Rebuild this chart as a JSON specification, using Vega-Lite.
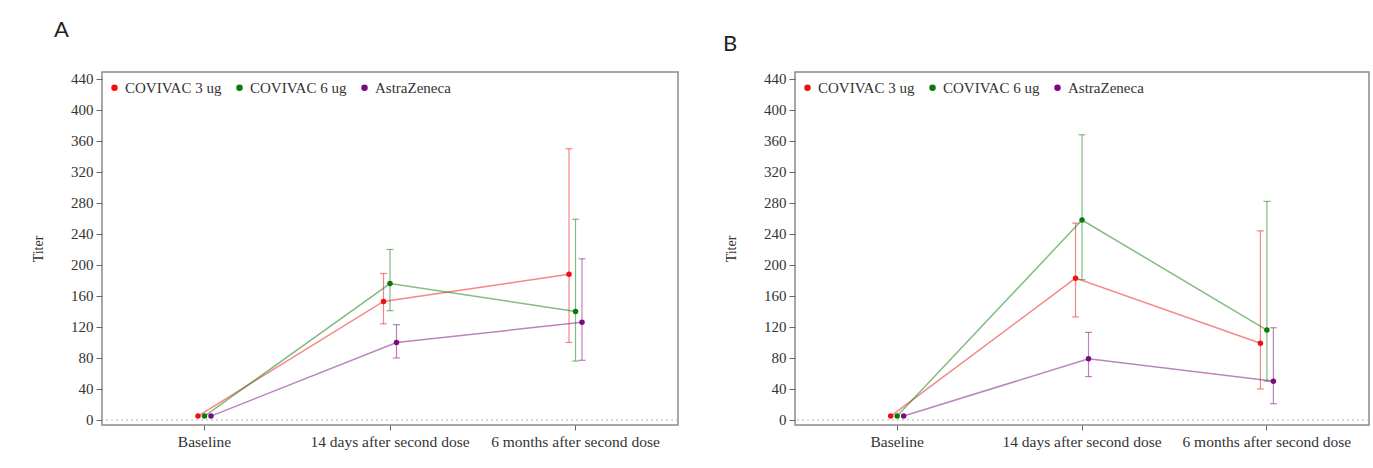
{
  "$schema": "https://vega.github.io/schema/vega-lite/v6.json",
  "background": "white",
  "padding": {"left": 30, "top": 18, "right": 5, "bottom": 5},
  "bounds": "flush",
  "spacing": 117,
  "datasets": {
    "d": [
      {"panel": "A", "time": "Baseline", "group": "COVIVAC 3 ug", "titer": 5, "lo": null, "hi": null},
      {"panel": "A", "time": "Baseline", "group": "COVIVAC 6 ug", "titer": 5, "lo": null, "hi": null},
      {"panel": "A", "time": "Baseline", "group": "AstraZeneca", "titer": 5, "lo": null, "hi": null},
      {"panel": "A", "time": "14 days after second dose", "group": "COVIVAC 3 ug", "titer": 153, "lo": 124, "hi": 189},
      {"panel": "A", "time": "14 days after second dose", "group": "COVIVAC 6 ug", "titer": 176, "lo": 141, "hi": 220},
      {"panel": "A", "time": "14 days after second dose", "group": "AstraZeneca", "titer": 100, "lo": 80, "hi": 123},
      {"panel": "A", "time": "6 months after second dose", "group": "COVIVAC 3 ug", "titer": 188, "lo": 100, "hi": 350},
      {"panel": "A", "time": "6 months after second dose", "group": "COVIVAC 6 ug", "titer": 140, "lo": 76, "hi": 259},
      {"panel": "A", "time": "6 months after second dose", "group": "AstraZeneca", "titer": 126, "lo": 77, "hi": 208},
      {"panel": "B", "time": "Baseline", "group": "COVIVAC 3 ug", "titer": 5, "lo": null, "hi": null},
      {"panel": "B", "time": "Baseline", "group": "COVIVAC 6 ug", "titer": 5, "lo": null, "hi": null},
      {"panel": "B", "time": "Baseline", "group": "AstraZeneca", "titer": 5, "lo": null, "hi": null},
      {"panel": "B", "time": "14 days after second dose", "group": "COVIVAC 3 ug", "titer": 183, "lo": 133, "hi": 254},
      {"panel": "B", "time": "14 days after second dose", "group": "COVIVAC 6 ug", "titer": 258, "lo": 181, "hi": 368},
      {"panel": "B", "time": "14 days after second dose", "group": "AstraZeneca", "titer": 79, "lo": 56, "hi": 113},
      {"panel": "B", "time": "6 months after second dose", "group": "COVIVAC 3 ug", "titer": 99, "lo": 40, "hi": 244},
      {"panel": "B", "time": "6 months after second dose", "group": "COVIVAC 6 ug", "titer": 116, "lo": 50, "hi": 282},
      {"panel": "B", "time": "6 months after second dose", "group": "AstraZeneca", "titer": 50, "lo": 21, "hi": 119}
    ]
  },
  "resolve": {"legend": {"color": "independent"}},
  "hconcat": [
    {
      "width": 576,
      "height": 353,
      "title": {"text": "A", "dx": -48, "offset": 30},
      "data": {"name": "d"},
      "transform": [{"filter": "datum.panel === 'A'"}],
      "layer": [
        {
          "data": {"values": [{"z": 0}]},
          "mark": {"type": "rule", "strokeDash": [2, 3], "color": "#b0b0b0", "strokeWidth": 1},
          "encoding": {"y": {"field": "z", "type": "quantitative", "title": "Titer", "scale": {"domain": [-6.5, 449], "nice": false, "zero": false}, "axis": {"values": [0, 40, 80, 120, 160, 200, 240, 280, 320, 360, 400, 440], "labelOverlap": false}}}
        },
        {
          "mark": {"type": "rule", "strokeWidth": 1.2, "opacity": 0.5},
          "encoding": {
            "x": {"field": "time", "type": "nominal", "sort": ["Baseline", "14 days after second dose", "6 months after second dose"], "title": null, "scale": {"type": "band", "paddingInner": 0.895, "paddingOuter": 0.5}},
            "xOffset": {"field": "group", "type": "nominal", "sort": ["COVIVAC 3 ug", "COVIVAC 6 ug", "AstraZeneca"], "scale": {"paddingInner": 0, "paddingOuter": 0}},
            "y": {"field": "lo", "type": "quantitative", "title": "Titer", "axis": {"values": [0, 40, 80, 120, 160, 200, 240, 280, 320, 360, 400, 440], "labelOverlap": false}},
            "y2": {"field": "hi"},
            "color": {"field": "group", "type": "nominal"}
          }
        },
        {
          "mark": {"type": "tick", "size": 7, "thickness": 1.2, "opacity": 0.5, "orient": "horizontal"},
          "encoding": {
            "x": {"field": "time", "type": "nominal", "sort": ["Baseline", "14 days after second dose", "6 months after second dose"], "title": null},
            "xOffset": {"field": "group", "type": "nominal", "sort": ["COVIVAC 3 ug", "COVIVAC 6 ug", "AstraZeneca"]},
            "y": {"field": "hi", "type": "quantitative", "title": "Titer", "axis": {"values": [0, 40, 80, 120, 160, 200, 240, 280, 320, 360, 400, 440], "labelOverlap": false}},
            "color": {"field": "group", "type": "nominal"}
          }
        },
        {
          "mark": {"type": "tick", "size": 7, "thickness": 1.2, "opacity": 0.5, "orient": "horizontal"},
          "encoding": {
            "x": {"field": "time", "type": "nominal", "sort": ["Baseline", "14 days after second dose", "6 months after second dose"], "title": null},
            "xOffset": {"field": "group", "type": "nominal", "sort": ["COVIVAC 3 ug", "COVIVAC 6 ug", "AstraZeneca"]},
            "y": {"field": "lo", "type": "quantitative", "title": "Titer", "axis": {"values": [0, 40, 80, 120, 160, 200, 240, 280, 320, 360, 400, 440], "labelOverlap": false}},
            "color": {"field": "group", "type": "nominal"}
          }
        },
        {
          "mark": {"type": "line", "strokeWidth": 1.5, "opacity": 0.5},
          "encoding": {
            "x": {"field": "time", "type": "nominal", "sort": ["Baseline", "14 days after second dose", "6 months after second dose"], "title": null},
            "xOffset": {"field": "group", "type": "nominal", "sort": ["COVIVAC 3 ug", "COVIVAC 6 ug", "AstraZeneca"]},
            "y": {"field": "titer", "type": "quantitative", "title": "Titer", "axis": {"values": [0, 40, 80, 120, 160, 200, 240, 280, 320, 360, 400, 440], "labelOverlap": false}},
            "color": {"field": "group", "type": "nominal"}
          }
        },
        {
          "mark": {"type": "point", "filled": true, "size": 30, "opacity": 1},
          "encoding": {
            "x": {"field": "time", "type": "nominal", "sort": ["Baseline", "14 days after second dose", "6 months after second dose"], "title": null},
            "xOffset": {"field": "group", "type": "nominal", "sort": ["COVIVAC 3 ug", "COVIVAC 6 ug", "AstraZeneca"]},
            "y": {"field": "titer", "type": "quantitative", "title": "Titer", "axis": {"values": [0, 40, 80, 120, 160, 200, 240, 280, 320, 360, 400, 440], "labelOverlap": false}},
            "color": {"field": "group", "type": "nominal", "scale": {"domain": ["COVIVAC 3 ug", "COVIVAC 6 ug", "AstraZeneca"], "range": ["#f01010", "#0a7a0a", "#7a0a80"]}, "legend": {"orient": "none", "legendX": 5, "legendY": 8, "direction": "horizontal", "title": null, "symbolType": "circle", "symbolOpacity": 1}}
          }
        }
      ]
    },
    {
      "width": 574,
      "height": 353,
      "title": {"text": "B", "dx": -72, "offset": 16},
      "data": {"name": "d"},
      "transform": [{"filter": "datum.panel === 'B'"}],
      "layer": [
        {
          "data": {"values": [{"z": 0}]},
          "mark": {"type": "rule", "strokeDash": [2, 3], "color": "#b0b0b0", "strokeWidth": 1},
          "encoding": {"y": {"field": "z", "type": "quantitative", "title": "Titer", "scale": {"domain": [-6.5, 449], "nice": false, "zero": false}, "axis": {"values": [0, 40, 80, 120, 160, 200, 240, 280, 320, 360, 400, 440], "labelOverlap": false}}}
        },
        {
          "mark": {"type": "rule", "strokeWidth": 1.2, "opacity": 0.5},
          "encoding": {
            "x": {"field": "time", "type": "nominal", "sort": ["Baseline", "14 days after second dose", "6 months after second dose"], "title": null, "scale": {"type": "band", "paddingInner": 0.895, "paddingOuter": 0.5}},
            "xOffset": {"field": "group", "type": "nominal", "sort": ["COVIVAC 3 ug", "COVIVAC 6 ug", "AstraZeneca"], "scale": {"paddingInner": 0, "paddingOuter": 0}},
            "y": {"field": "lo", "type": "quantitative", "title": "Titer", "axis": {"values": [0, 40, 80, 120, 160, 200, 240, 280, 320, 360, 400, 440], "labelOverlap": false}},
            "y2": {"field": "hi"},
            "color": {"field": "group", "type": "nominal"}
          }
        },
        {
          "mark": {"type": "tick", "size": 7, "thickness": 1.2, "opacity": 0.5, "orient": "horizontal"},
          "encoding": {
            "x": {"field": "time", "type": "nominal", "sort": ["Baseline", "14 days after second dose", "6 months after second dose"], "title": null},
            "xOffset": {"field": "group", "type": "nominal", "sort": ["COVIVAC 3 ug", "COVIVAC 6 ug", "AstraZeneca"]},
            "y": {"field": "hi", "type": "quantitative", "title": "Titer", "axis": {"values": [0, 40, 80, 120, 160, 200, 240, 280, 320, 360, 400, 440], "labelOverlap": false}},
            "color": {"field": "group", "type": "nominal"}
          }
        },
        {
          "mark": {"type": "tick", "size": 7, "thickness": 1.2, "opacity": 0.5, "orient": "horizontal"},
          "encoding": {
            "x": {"field": "time", "type": "nominal", "sort": ["Baseline", "14 days after second dose", "6 months after second dose"], "title": null},
            "xOffset": {"field": "group", "type": "nominal", "sort": ["COVIVAC 3 ug", "COVIVAC 6 ug", "AstraZeneca"]},
            "y": {"field": "lo", "type": "quantitative", "title": "Titer", "axis": {"values": [0, 40, 80, 120, 160, 200, 240, 280, 320, 360, 400, 440], "labelOverlap": false}},
            "color": {"field": "group", "type": "nominal"}
          }
        },
        {
          "mark": {"type": "line", "strokeWidth": 1.5, "opacity": 0.5},
          "encoding": {
            "x": {"field": "time", "type": "nominal", "sort": ["Baseline", "14 days after second dose", "6 months after second dose"], "title": null},
            "xOffset": {"field": "group", "type": "nominal", "sort": ["COVIVAC 3 ug", "COVIVAC 6 ug", "AstraZeneca"]},
            "y": {"field": "titer", "type": "quantitative", "title": "Titer", "axis": {"values": [0, 40, 80, 120, 160, 200, 240, 280, 320, 360, 400, 440], "labelOverlap": false}},
            "color": {"field": "group", "type": "nominal"}
          }
        },
        {
          "mark": {"type": "point", "filled": true, "size": 30, "opacity": 1},
          "encoding": {
            "x": {"field": "time", "type": "nominal", "sort": ["Baseline", "14 days after second dose", "6 months after second dose"], "title": null},
            "xOffset": {"field": "group", "type": "nominal", "sort": ["COVIVAC 3 ug", "COVIVAC 6 ug", "AstraZeneca"]},
            "y": {"field": "titer", "type": "quantitative", "title": "Titer", "axis": {"values": [0, 40, 80, 120, 160, 200, 240, 280, 320, 360, 400, 440], "labelOverlap": false}},
            "color": {"field": "group", "type": "nominal", "scale": {"domain": ["COVIVAC 3 ug", "COVIVAC 6 ug", "AstraZeneca"], "range": ["#f01010", "#0a7a0a", "#7a0a80"]}, "legend": {"orient": "none", "legendX": 5, "legendY": 8, "direction": "horizontal", "title": null, "symbolType": "circle", "symbolOpacity": 1}}
          }
        }
      ]
    }
  ],
  "config": {
    "view": {"stroke": "#8a8a8a", "strokeWidth": 1.5},
    "title": {"font": "Lato", "fontSize": 22, "fontWeight": "normal", "color": "#222", "anchor": "start", "frame": "group"},
    "axis": {"domain": false, "grid": false, "labelFont": "Liberation Serif", "labelFontSize": 15, "labelColor": "#333", "tickColor": "#666", "tickSize": 6, "labelPadding": 3, "titleFont": "Liberation Serif", "titleFontSize": 14, "titleFontWeight": "normal", "titleColor": "#333"},
    "axisY": {"titlePadding": 25},
    "axisX": {"labelFontSize": 15.5, "labelAngle": 0, "tickSize": 5, "labelPadding": 4},
    "legend": {"labelFont": "Liberation Serif", "labelFontSize": 15, "labelColor": "#333", "symbolType": "circle", "symbolSize": 25, "columnPadding": 10, "labelOffset": 3, "padding": 0, "symbolOpacity": 1}
  }
}
